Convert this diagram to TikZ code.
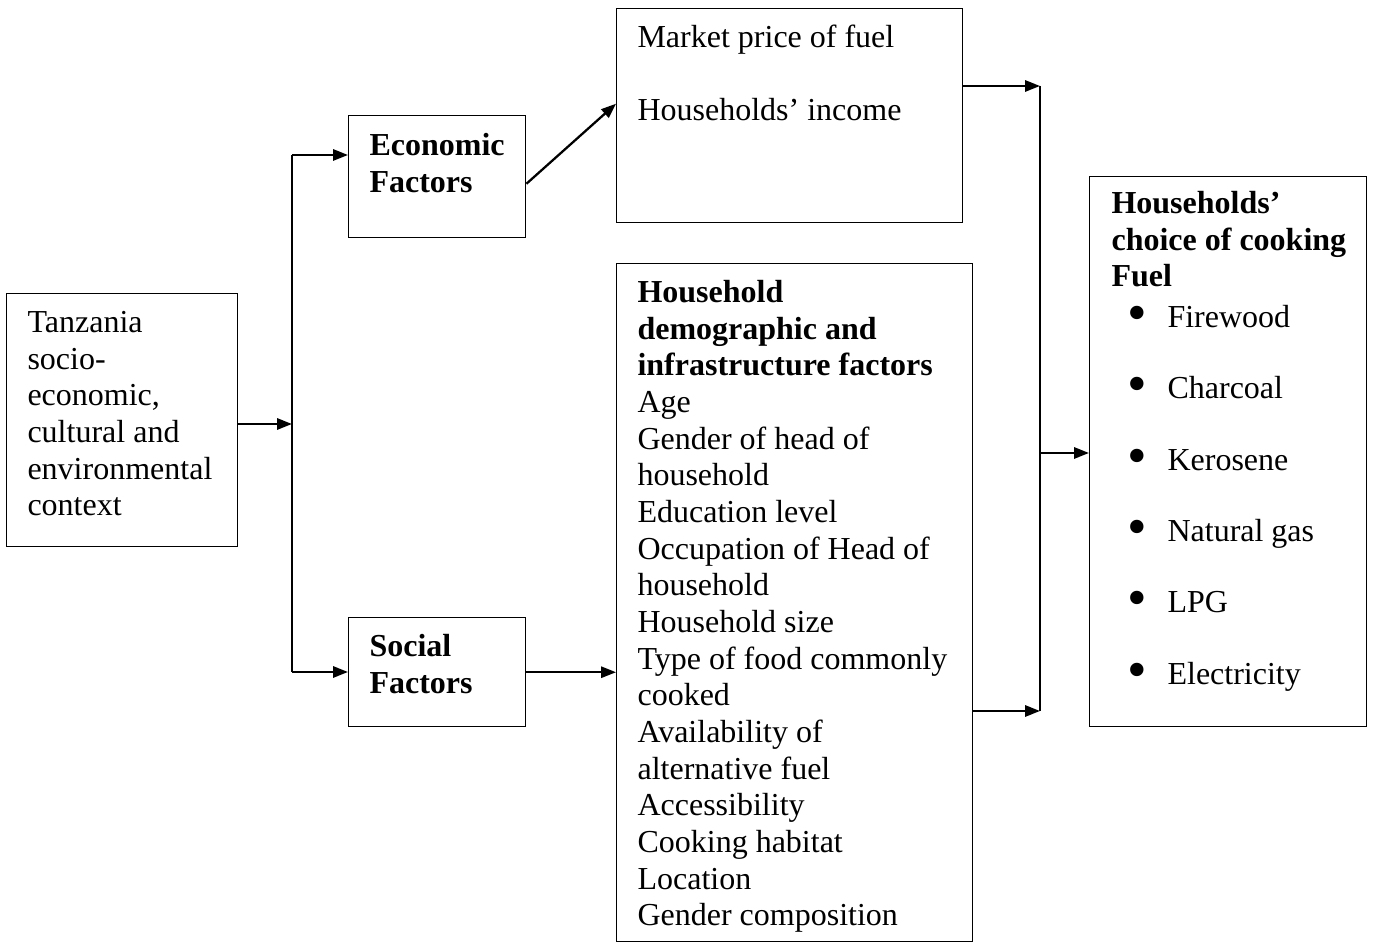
\documentclass[tikz,border=0pt]{standalone}
\usepackage{fontspec}
\usepackage{graphicx}
\setmainfont{Liberation Serif}
\usetikzlibrary{arrows.meta}
\newcommand{\bul}{\hspace*{6.0pt}\makebox[15pt][l]{\smash{\raisebox{-1.5pt}{\scalebox{1.75}{•}}}}}
\begin{document}
\begin{tikzpicture}[x=0.375pt,y=-0.375pt,
  box/.style={draw, line width=0.55pt, rectangle, inner sep=0pt, anchor=north west},
  txt/.style={anchor=north west, inner sep=0pt, align=left, text width=130pt,
    font=\fontsize{12}{13.75}\selectfont,
    execute at begin node={\spaceskip=0.25em plus 0.1em\relax\xspaceskip=0.25em plus 0.1em\relax}},
  con/.style={line width=0.85pt},
  arr/.style={con, -{Triangle[length=5.6pt,width=4.2pt]}}]
\useasboundingbox (0,0) rectangle (1373,943);

% boxes
\node[box, minimum width=231*0.375pt, minimum height=253*0.375pt] (tz) at (6,293) {};
\node[box, minimum width=177*0.375pt, minimum height=122*0.375pt] (eco) at (348,115) {};
\node[box, minimum width=177*0.375pt, minimum height=109*0.375pt] (soc) at (348,617) {};
\node[box, minimum width=346*0.375pt, minimum height=214*0.375pt] (mk) at (616,8) {};
\node[box, minimum width=356*0.375pt, minimum height=678*0.375pt] (hh) at (616,263) {};
\node[box, minimum width=277*0.375pt, minimum height=550*0.375pt] (ch) at (1089,176) {};

% texts
\node[txt] (tztxt) at (27,306.3) {\strut Tanzania\\socio-\\economic,\\cultural and\\environmental\\context};
\node[txt] (ecotxt) at (369,129.3) {\bfseries\strut Economic\\Factors};
\node[txt] (soctxt) at (369,630.3) {\bfseries\strut Social\\Factors};
\node[txt] (mktxt) at (637,21.3) {\strut Market price of fuel\\[13.75pt]Households’ income};
\node[txt] (hhtxt) at (637,276.3) {\strut\textbf{Household}\\\textbf{demographic and}\\\textbf{infrastructure factors}\\
Age\\Gender of head of\\household\\Education level\\Occupation of Head of\\household\\Household size\\
Type of food commonly\\cooked\\Availability of\\alternative fuel\\Accessibility\\Cooking habitat\\Location\\Gender composition};
\node[txt] (chtxt) at (1111,187.3) {\strut\textbf{Households’}\\\textbf{choice of cooking}\\\textbf{Fuel}\\[1.5pt]
\bul Firewood\\[13pt]
\bul Charcoal\\[13pt]
\bul Kerosene\\[13pt]
\bul Natural gas\\[13pt]
\bul LPG\\[13pt]
\bul Electricity};

% junctions
\coordinate (jl) at (292,424);
\coordinate (jlt) at (292,155);
\coordinate (jlb) at (292,672);
\coordinate (jr) at (1040,86);
\coordinate (jrm) at (1040,453);
\coordinate (jrb) at (1040,711);

% connectors
\draw[arr] (tz.east |- jl) -- (jl);
\draw[con] (jlt) -- (jlb);
\draw[arr] (jlt) -- (eco.west |- jlt);
\draw[arr] (jlb) -- (soc.west |- jlb);
\draw[arr] ([yshift=-7*0.375pt]eco.east) -- ([yshift=12*0.375pt]mk.west);
\draw[arr] (soc.east) -- (hh.west |- soc.east);
\draw[arr] (mk.east |- jr) -- (jr);
\draw[con] (jr) -- (jrb);
\draw[arr] (hh.east |- jrb) -- (jrb);
\draw[arr] (jrm) -- (ch.west |- jrm);
\end{tikzpicture}
\end{document}
